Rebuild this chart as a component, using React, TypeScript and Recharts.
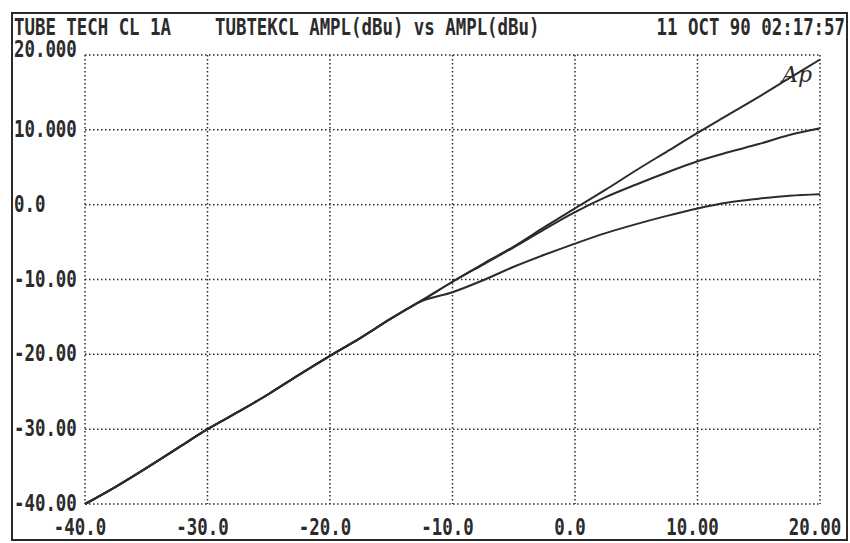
import { LineChart, Line, XAxis, YAxis, CartesianGrid } from 'recharts';

// input level (dBu) sampled along the sweep
const INPUT = [
  -40, -37.5, -35, -32.5, -30, -27.5, -25, -22.5, -20, -17.5, -15, -12.5, -10,
  -7.5, -5, -2.5, 0, 2.5, 5, 7.5, 10, 12.5, 15, 17.5, 20,
];

// output level (dBu) for the three traces
const TRACE_A = [
  -40.0, -37.7, -35.2, -32.6, -30.0, -27.7, -25.3, -22.7, -20.2, -17.8, -15.2, -12.8, -10.3,
  -7.9, -5.6, -3.0, -0.5, 2.0, 4.6, 7.1, 9.6, 12.0, 14.4, 16.9, 19.4,
];
const TRACE_B = [
  -40.0, -37.7, -35.2, -32.6, -30.0, -27.7, -25.3, -22.7, -20.2, -17.8, -15.2, -12.8, -10.3,
  -8.0, -5.7, -3.3, -1.0, 1.0, 2.7, 4.3, 5.8, 7.0, 8.1, 9.3, 10.2,
];
const TRACE_C = [
  -40.0, -37.7, -35.2, -32.6, -30.0, -27.7, -25.3, -22.7, -20.2, -17.8, -15.2, -12.9, -11.7,
  -10.1, -8.3, -6.7, -5.2, -3.8, -2.6, -1.5, -0.5, 0.3, 0.8, 1.2, 1.4,
];

const X_TICKS = [-40, -30, -20, -10, 0, 10, 20];
const X_LABELS = ['-40.0', '-30.0', '-20.0', '-10.0', '0.0', '10.00', '20.00'];
const Y_TICKS = [-40, -30, -20, -10, 0, 10, 20];
const Y_LABELS = ['-40.00', '-30.00', '-20.00', '-10.00', '0.0', '10.000', '20.000'];

const TITLE_LEFT = 'TUBE TECH CL 1A';
const TITLE_MID = 'TUBTEKCL AMPL(dBu) vs AMPL(dBu)';
const TITLE_RIGHT = '11 OCT 90 02:17:57';

const FONT = '"DejaVu Sans Mono", "Liberation Mono", monospace';
const INK = '#2b2b2b';

const data = INPUT.map((x, i) => ({ x, a: TRACE_A[i], b: TRACE_B[i], c: TRACE_C[i] }));

const PlotText = ({ x, y, anchor = 'start', children }: any) => (
  <text
    transform={`translate(${x},${y}) scale(1,1.36)`}
    textAnchor={anchor}
    fontFamily={FONT}
    fontWeight="bold"
    fontSize={17.4}
    fill={INK}
  >
    {children}
  </text>
);

const XTick = ({ x, payload }: any) => {
  const idx = X_TICKS.indexOf(payload.value);
  return <PlotText x={x - 5} y={535} anchor="middle">{X_LABELS[idx]}</PlotText>;
};

const YTick = ({ y, payload }: any) => {
  const idx = Y_TICKS.indexOf(payload.value);
  const dy = payload.value === 20 ? 2 : 7;
  return <PlotText x={14} y={y + dy}>{Y_LABELS[idx]}</PlotText>;
};

export default function App() {
  return (
    <div style={{ position: 'absolute', left: 0, top: 0, width: 850, height: 543, background: '#fff' }}>
      <LineChart
        width={850}
        height={543}
        data={data}
        margin={{ top: 55, right: 30, bottom: 0, left: 0 }}
      >
        <CartesianGrid stroke={INK} strokeWidth={1.5} strokeDasharray="1.5 2.5" />
        <XAxis
          dataKey="x"
          type="number"
          domain={[-40, 20]}
          ticks={X_TICKS}
          axisLine={false}
          tickLine={false}
          height={39}
          tick={<XTick />}
        />
        <YAxis
          type="number"
          domain={[-40, 20]}
          ticks={Y_TICKS}
          axisLine={false}
          tickLine={false}
          width={85}
          tick={<YTick />}
        />
        <Line dataKey="a" type="monotone" stroke={INK} strokeWidth={2} dot={false} isAnimationActive={false} />
        <Line dataKey="b" type="monotone" stroke={INK} strokeWidth={2} dot={false} isAnimationActive={false} />
        <Line dataKey="c" type="monotone" stroke={INK} strokeWidth={2} dot={false} isAnimationActive={false} />
      </LineChart>
      <svg
        width={850}
        height={543}
        style={{ position: 'absolute', left: 0, top: 0, pointerEvents: 'none' }}
      >
        <rect x={12} y={13} width={835} height={527} fill="none" stroke={INK} strokeWidth={2} />
        <PlotText x={14} y={35}>{TITLE_LEFT}</PlotText>
        <PlotText x={215} y={35}>{TITLE_MID}</PlotText>
        <PlotText x={845} y={35} anchor="end">{TITLE_RIGHT}</PlotText>
        <text
          x={782}
          y={82}
          fontFamily="'DejaVu Serif', serif"
          fontStyle="italic"
          fontSize={22}
          fill={INK}
        >
          Ap
        </text>
      </svg>
    </div>
  );
}
